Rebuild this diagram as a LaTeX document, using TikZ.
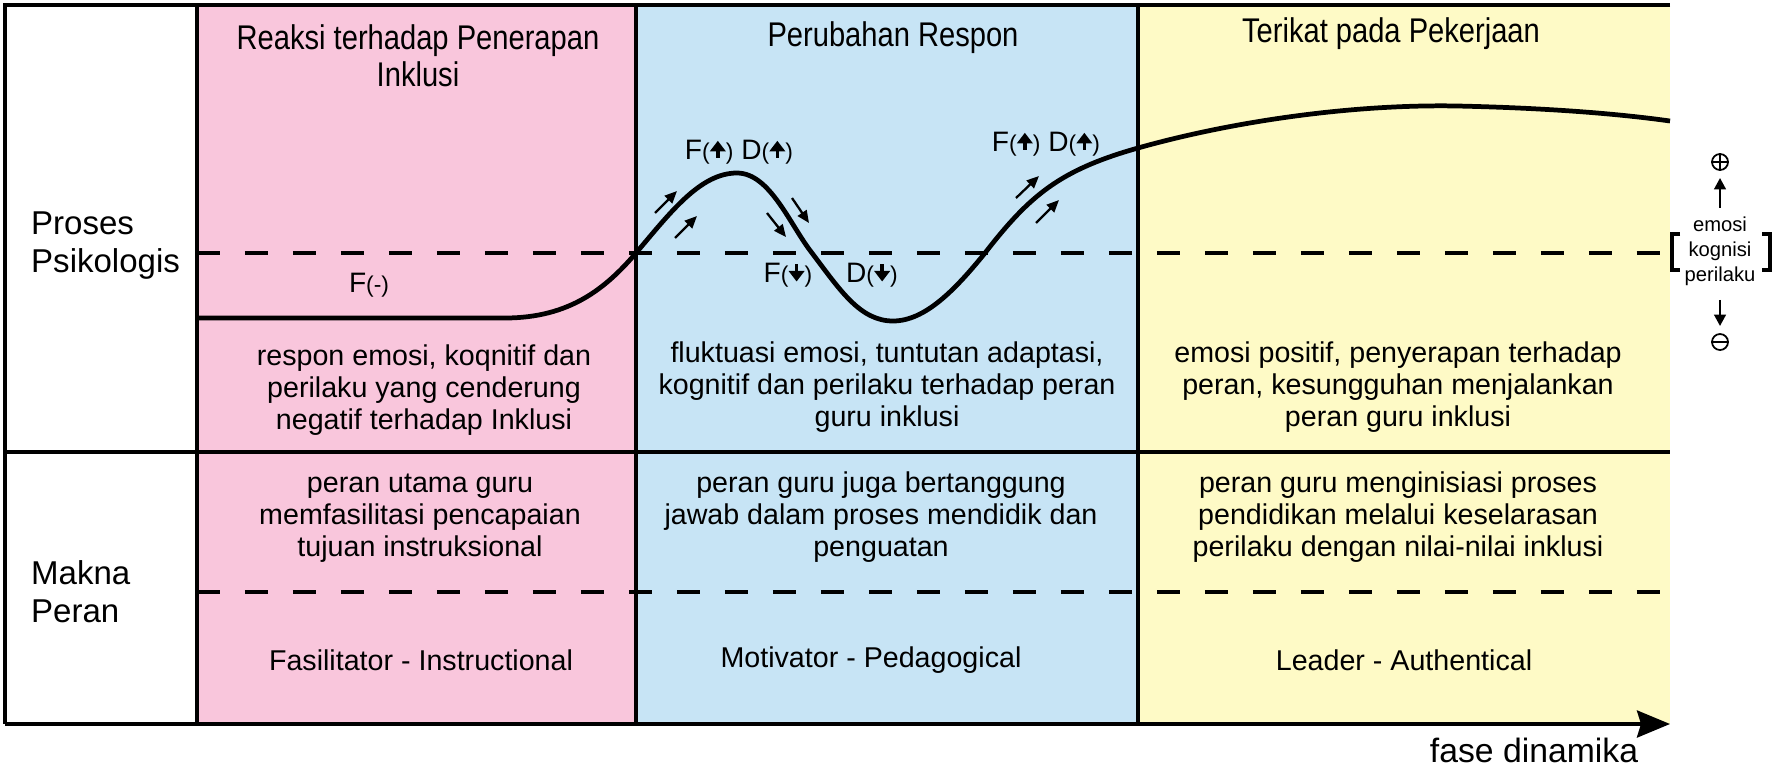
\documentclass[tikz,border=0pt]{standalone}
\usepackage{fontspec}
\setmainfont{Liberation Sans}
\newfontfamily\narrowfont[FakeStretch=0.85]{Liberation Sans}
\usepackage{xcolor}
\usepackage{tikz}
\usetikzlibrary{arrows.meta, positioning}

\definecolor{pinkc}{RGB}{249,198,220}
\definecolor{bluec}{RGB}{199,228,245}
\definecolor{yellowc}{RGB}{254,250,198}

% petits symboles fleche pleine
\newcommand\upmark{\tikz[baseline=-0.5pt]{\fill (-1pt,0pt) rectangle (1pt,4.5pt);
  \fill (-4.6pt,4pt) -- (4.6pt,4pt) -- (0pt,10pt) -- cycle;}}
\newcommand\dnmark{\tikz[baseline=-0.5pt]{\fill (-1pt,10pt) rectangle (1pt,5.5pt);
  \fill (-4.6pt,6pt) -- (4.6pt,6pt) -- (0pt,0pt) -- cycle;}}
\newcommand\pr[1]{{\fontsize{13}{13}\selectfont(#1)}}

\begin{document}
\begin{tikzpicture}[x=0.02cm, y=-0.02cm,
    frame/.style={line width=2.2pt},
    dashline/.style={line width=2.6pt, dash pattern=on 0.46cm off 0.5cm},
    curve/.style={line width=2.7pt},
    small/.style={line width=1.3pt, -{Triangle[length=7pt,width=6pt]}},
    head/.style={font=\narrowfont\fontsize{19.5}{21}\selectfont, align=center},
    body/.style={font=\fontsize{16.3}{18.2}\selectfont, align=center},
    side/.style={font=\fontsize{18.8}{21.6}\selectfont, align=left, anchor=west},
    lab/.style={font=\fontsize{16}{16}\selectfont, inner sep=0pt},
    legend/.style={font=\fontsize{11.5}{14.2}\selectfont, align=center, inner sep=1pt},
    sign/.style={circle, draw, line width=1pt, inner sep=0pt, minimum size=0.32cm},
    legarrow/.style={line width=1.5pt, -{Triangle[length=6.5pt,width=6.5pt]}}]

    \useasboundingbox (0,0) rectangle (1785,771);

    % fonds des trois phases
    \fill[pinkc] (197,5) rectangle (636,724);
    \fill[bluec] (636,5) rectangle (1138,724);
    \fill[yellowc] (1138,5) rectangle (1670,724);

    % lignes pointillees
    \draw[dashline] (197,253) -- (1670,253);
    \draw[dashline] (197,592) -- (1670,592);

    % cadre
    \draw[frame] (1670,5) -- (5,5) -- (5,724);
    \draw[frame] (5,452) -- (1670,452);
    \foreach \x in {197,636,1138}{
        \draw[frame] (\x,5) -- (\x,724);
    }
    \draw[frame, -{Stealth[length=0.66cm,width=0.54cm,inset=0.08cm]}] (5,724) -- (1670,724);
    \node (fase) at (1534,750) {\fontsize{19.2}{20}\selectfont fase dinamika};

    % courbe
    \draw[curve] (197,318) -- (505,318)
        .. controls (570,318) and (606,288) .. (636,253)
        .. controls (670,213) and (700,173) .. (737,173)
        .. controls (770,173) and (790,225) .. (812,253)
        .. controls (840,290) and (860,321) .. (893,321)
        .. controls (925,321) and (955,290) .. (985,253)
        .. controls (1030,195) and (1060,170) .. (1138,148)
        .. controls (1230,122) and (1350,104) .. (1457,106)
        .. controls (1550,108) and (1620,114) .. (1670,121);

    % petites fleches
    \foreach \a/\b/\c/\d in {655/213/677/191, 675/238/697/216, 767/213/786/237,
        792/198/809/223, 1016/198/1039/176, 1036/223/1059/200}{
        \draw[small] (\a,\b) -- (\c,\d);
    }

    % etiquettes F et D
    \node[lab] (fdA) at (739,152) {F\pr{\upmark} D\pr{\upmark}};
    \node[lab] (fdB) at (1046,144) {F\pr{\upmark} D\pr{\upmark}};
    \node[lab] (fC) at (788,275) {F\pr{\dnmark}};
    \node[lab] (dC) at (872,275) {D\pr{\dnmark}};
    \node[lab] (fneg) at (369,285) {F\pr{-}};

    % titres
    \node[head] (reaksi) at (418,56) {Reaksi terhadap Penerapan\\Inklusi};
    \node[head] (perubahan) at (893,38) {Perubahan Respon};
    \node[head] (terikat) at (1391,34) {Terikat pada Pekerjaan};

    % lignes de gauche
    \node[side] (proses) at (25,246) {Proses\\Psikologis};
    \node[side] (makna) at (25,592) {Makna\\Peran};

    % textes proses psikologis
    \node[body] (psiA) at (424,390) {respon emosi, koqnitif dan\\perilaku yang cenderung\\negatif terhadap Inklusi};
    \node[body] (psiB) at (887,387) {fluktuasi emosi, tuntutan adaptasi,\\kognitif dan perilaku terhadap peran\\guru inklusi};
    \node[body] (psiC) at (1398,387) {emosi positif, penyerapan terhadap\\peran, kesungguhan menjalankan\\peran guru inklusi};

    % textes makna peran
    \node[body] (perA) at (420,518) {peran utama guru\\memfasilitasi pencapaian\\tujuan instruksional};
    \node[body] (perB) at (881,517) {peran guru juga bertanggung\\jawab dalam proses mendidik dan\\penguatan};
    \node[body] (perC) at (1398,517) {peran guru menginisiasi proses\\pendidikan melalui keselarasan\\perilaku dengan nilai-nilai inklusi};

    \node[body] (rolA) at (421,660) {Fasilitator - Instructional};
    \node[body] (rolB) at (871,660) {Motivator - Pedagogical};
    \node[body] (rolC) at (1404,660) {Leader - Authentical};

    % legende a droite
    \node[legend] (ekp) at (1720,251) {emosi\\kognisi\\perilaku};
    \node[sign] (plus) at (1720,162) {};
    \node[sign] (minus) at (1720,342) {};
    \draw[line width=1pt] (plus.north) -- (plus.south) (plus.west) -- (plus.east);
    \draw[line width=1pt] (minus.west) -- (minus.east);
    \draw[legarrow, shorten <=4pt, shorten >=4pt] (ekp.north) -- (plus.south);
    \draw[legarrow, shorten <=7pt, shorten >=4pt] (ekp.south) -- (minus.north);
    \draw[line width=1.9pt] (1680,234) -- (1672,234) -- (1672,270) -- (1680,270);
    \draw[line width=1.9pt] (1762,234) -- (1770,234) -- (1770,270) -- (1762,270);
\end{tikzpicture}
\end{document}
